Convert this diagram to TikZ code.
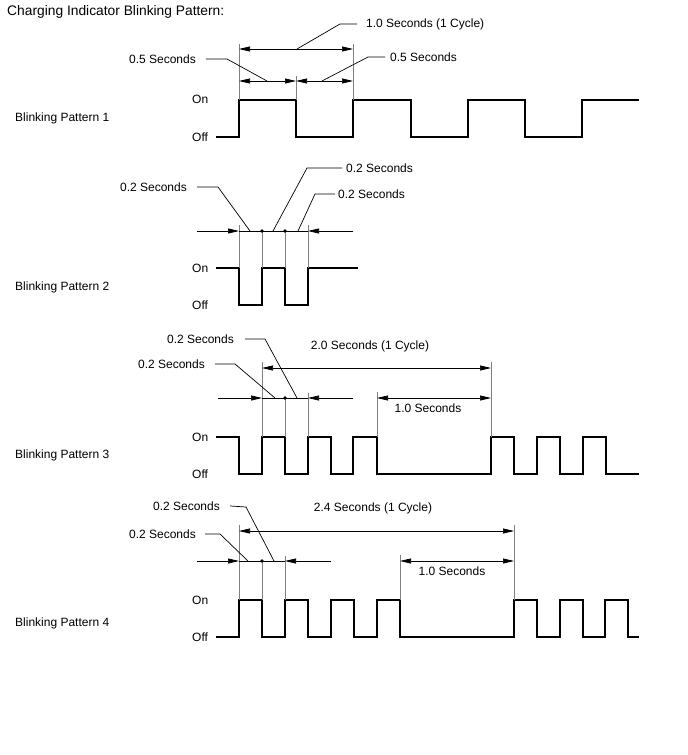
\documentclass[tikz,border=0pt]{standalone}
\usepackage{fontspec}
\setmainfont{Liberation Sans}
\usetikzlibrary{arrows.meta}

\begin{document}
\begin{tikzpicture}[x=1pt, y=-1pt,
        sig/.style={line width=2.9pt, line join=miter},
        ext/.style={gray, line width=0.6pt},
        dim/.style={line width=0.7pt, {Triangle[length=11pt,width=5pt]}-{Triangle[length=11pt,width=5pt]}},
        tip/.style={line width=0.7pt, -{Triangle[length=11pt,width=5pt]}},
        lead/.style={line width=0.7pt},
        lbl/.style={inner sep=0pt, font=\fontsize{12}{14}\selectfont}]
        \useasboundingbox (0,0) rectangle (688,755);

        \node[anchor=west, inner sep=0pt, font=\fontsize{13.8}{16}\selectfont] (title) at (7,12) {Charging Indicator Blinking Pattern:};

        % pattern 1
        \node[lbl, anchor=west] (p1)   at (15,118) {Blinking Pattern 1};
        \node[lbl, anchor=west] (on1)  at (192,99) {On};
        \node[lbl, anchor=west] (off1) at (192,137) {Off};
        \draw[sig] (216,137) -| (239,100) -| (296,137) -| (353,100) -| (411,137) -| (468,100)
                   -| (525,137) -| (582,100) -- (639,100);
        \draw[ext] (239,44) -- (239,100) (296,76) -- (296,100) (353,44) -- (353,100);
        \draw[dim] (239,49) -- (353,49);
        \draw[dim] (239,81) -- (296,81);
        \draw[dim] (296,81) -- (353,81);
        \node[lbl, anchor=west] (c1)  at (366,24) {1.0 Seconds (1 Cycle)};
        \node[lbl, anchor=east] (h1a) at (196,59) {0.5 Seconds};
        \node[lbl, anchor=west] (h1b) at (390,57) {0.5 Seconds};
        \draw[lead] ([xshift=-9]c1.west) -- (340,24) -- (297,49);
        \draw[lead] ([xshift=10]h1a.east) -- (227,59) -- (267,81);
        \draw[lead] ([xshift=-5]h1b.west) -- (368,57) -- (322,81);

        % pattern 2
        \node[lbl, anchor=west] (p2)   at (15,287) {Blinking Pattern 2};
        \node[lbl, anchor=west] (on2)  at (192,268) {On};
        \node[lbl, anchor=west] (off2) at (192,305) {Off};
        \draw[sig] (216,268) -| (239,305) -| (262,268) -| (285,305) -| (308,268) -- (358,268);
        \draw[ext] (239,225) -- (239,268) (262,231) -- (262,268) (285,231) -- (285,268) (308,225) -- (308,268);
        \draw[tip] (197,231) -- (239,231);
        \draw[lead] (239,231) -- (308,231);
        \draw[tip] (353,231) -- (308,231);
        \fill (262,231) circle[radius=1.8pt] (285,231) circle[radius=1.8pt];
        \node[lbl, anchor=east] (s2a) at (187,187) {0.2 Seconds};
        \node[lbl, anchor=west] (s2b) at (346,168) {0.2 Seconds};
        \node[lbl, anchor=west] (s2c) at (338,194) {0.2 Seconds};
        \draw[lead] ([xshift=10]s2a.east) -- (218,187) -- (250,231);
        \draw[lead] ([xshift=-4]s2b.west) -- (307,168) -- (273,231);
        \draw[lead] ([xshift=-3]s2c.west) -- (315,194) -- (298,231);

        % pattern 3
        \node[lbl, anchor=west] (p3)   at (15,455) {Blinking Pattern 3};
        \node[lbl, anchor=west] (on3)  at (192,437) {On};
        \node[lbl, anchor=west] (off3) at (192,474) {Off};
        \draw[sig] (216,437) -| (239,474) -| (262,437) -| (285,474) -| (308,437) -| (331,474)
                   -| (353,437) -| (377,474) -| (491,437) -| (514,474) -| (537,437) -| (560,474)
                   -| (583,437) -| (606,474) -- (639,474);
        \draw[ext] (262,362) -- (262,437) (285,398) -- (285,437) (308,393) -- (308,437)
                   (377,392) -- (377,437) (491,362) -- (491,437);
        \draw[dim] (262,368) -- (491,368);
        \draw[tip] (218,398) -- (262,398);
        \draw[lead] (262,398) -- (308,398);
        \draw[tip] (353,398) -- (308,398);
        \fill (285,398) circle[radius=1.8pt];
        \draw[dim] (377,398) -- (491,398);
        \node[lbl] (c3) at (370,346) {2.0 Seconds (1 Cycle)};
        \node[lbl] (l3) at (428,408) {1.0 Seconds};
        \node[lbl, anchor=east] (s3a) at (234,339) {0.2 Seconds};
        \node[lbl, anchor=east] (s3b) at (205,364) {0.2 Seconds};
        \draw[lead] ([xshift=11]s3a.east) -- (265,339) -- (297,398);
        \draw[lead] ([xshift=10]s3b.east) -- (235,364) -- (275,398);

        % pattern 4
        \node[lbl, anchor=west] (p4)   at (15,623) {Blinking Pattern 4};
        \node[lbl, anchor=west] (on4)  at (192,600) {On};
        \node[lbl, anchor=west] (off4) at (192,637) {Off};
        \draw[sig] (216,637) -| (239,600) -| (262,637) -| (285,600) -| (308,637) -| (331,600)
                   -| (354,637) -| (377,600) -| (400,637) -| (514,600) -| (537,637) -| (560,600)
                   -| (583,637) -| (605,600) -| (628,637) -- (639,637);
        \draw[ext] (239,525) -- (239,600) (262,561) -- (262,600) (285,556) -- (285,600)
                   (400,555) -- (400,600) (514,525) -- (514,600);
        \draw[dim] (239,531) -- (514,531);
        \draw[tip] (197,561) -- (239,561);
        \draw[lead] (239,561) -- (285,561);
        \draw[tip] (331,561) -- (285,561);
        \fill (262,561) circle[radius=1.8pt];
        \draw[dim] (400,561) -- (514,561);
        \node[lbl] (c4) at (373,508) {2.4 Seconds (1 Cycle)};
        \node[lbl] (l4) at (452,571) {1.0 Seconds};
        \node[lbl, anchor=east] (s4a) at (220,506) {0.2 Seconds};
        \node[lbl, anchor=east] (s4b) at (196,534) {0.2 Seconds};
        \draw[lead] ([xshift=10]s4a.east) -- (246,507) -- (274,561);
        \draw[lead] ([xshift=9]s4b.east) -- (220,534) -- (248,561);
\end{tikzpicture}
\end{document}
